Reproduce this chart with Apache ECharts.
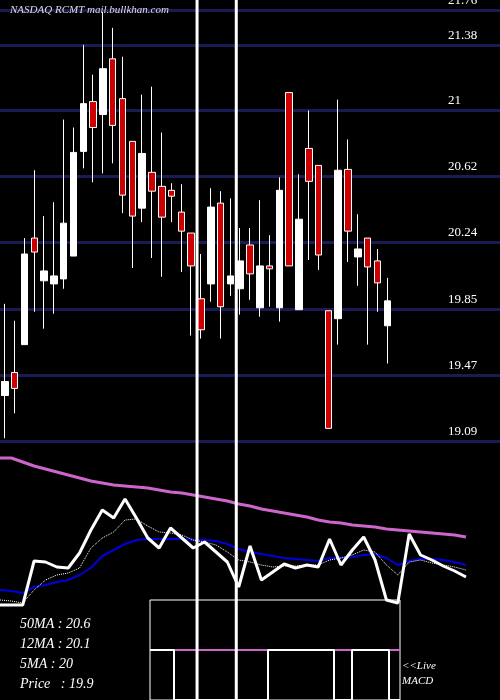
<!DOCTYPE html>
<html><head><meta charset="utf-8">
<script src="https://cdn.jsdelivr.net/npm/echarts@6/dist/echarts.min.js"></script>
<style>html,body{margin:0;padding:0;background:#000}#c{width:500px;height:700px}</style>
</head><body><div id="c"></div>
<script>
// candles: [open, close, low, high]
const candles = [
[19.353,19.434,19.106,19.883],[19.486,19.394,19.250,19.785],[19.647,20.171,19.647,20.263],[20.263,20.182,19.837,20.655],
[20.016,20.073,19.739,20.390],[19.998,20.044,19.826,20.470],[20.027,20.349,19.970,20.948],[20.159,20.758,20.159,20.902],
[20.764,21.040,20.666,21.380],[21.052,20.902,20.585,21.207],[20.977,21.242,20.637,21.570],[21.299,20.914,20.695,21.478],
[21.069,20.511,20.407,21.311],[20.822,20.390,20.090,20.822],[20.436,20.752,20.355,21.092],[20.643,20.534,20.148,21.138],
[20.562,20.384,20.039,20.873],[20.539,20.505,20.355,20.580],[20.413,20.303,20.067,20.574],[20.292,20.102,19.699,20.292],
[19.912,19.733,19.682,20.171],[19.998,20.442,19.895,20.551],[20.465,19.866,19.682,20.534],[19.998,20.044,19.929,20.493],
[19.970,20.131,19.820,20.321],[20.223,20.056,19.906,20.321],[19.860,20.102,19.808,20.482],[20.102,20.085,19.866,20.280],
[19.860,20.539,19.780,20.614],[21.104,20.102,20.102,21.104],[19.849,20.372,19.849,20.632],[20.781,20.591,20.136,21.000],
[20.683,20.165,20.079,20.683],[19.843,19.163,19.163,19.843],[19.797,20.655,19.647,21.063],[20.660,20.303,20.125,20.833],
[20.154,20.200,19.987,20.401],[20.263,20.096,19.647,20.263],[20.131,20.004,19.837,20.200],[19.756,19.900,19.538,20.033]
];
const slots = 51;
const tickValues = [21.576,21.38,21,20.62,20.24,19.85,19.47,19.09];
const tickLabels = ['21.76','21.38','21','20.62','20.24','19.85','19.47','19.09'];
const ma50 = [24.2,24.2,23.8,23.4,23.1,22.8,22.5,22.2,21.9,21.7,21.5,21.4,21.3,21.2,21.0,20.8,20.7,20.5,20.3,20.1,19.9,19.6,19.4,19.1,18.9,18.7,18.5,18.3,18.0,17.8,17.7,17.5,17.4,17.3,17.1,17.0,16.9,16.8,16.7,16.6,16.5,16.3];
const ma12 = [11.0,10.9,10.7,11.3,11.5,11.8,12.0,12.5,13.2,14.4,15.0,15.6,16.0,16.1,16.1,16.1,16.1,16.0,16.0,15.9,15.6,15.1,14.8,14.6,14.4,14.2,14.1,14.0,13.9,14.2,14.2,14.3,14.5,14.6,14.2,13.5,13.9,14.1,14.1,14.0,13.8,13.5];
const priceLine = [9.5,9.5,9.5,13.9,13.8,13.3,13.2,14.7,17.0,19.0,18.2,20.1,18.2,16.2,15.2,17.2,16.2,15.2,15.8,14.8,13.8,11.3,15.4,12.0,12.8,13.6,13.2,13.5,13.3,16.1,13.5,15.0,16.3,14.0,10.0,9.7,16.6,14.5,14.0,13.4,12.9,12.3];
const ma5 = [10.0,9.9,9.7,11.0,12.0,12.5,12.7,13.2,15.2,16.2,16.8,18.0,18.1,17.4,16.8,16.7,16.5,16.0,15.8,15.5,14.8,14.0,13.8,13.5,13.3,13.4,13.4,13.5,13.5,14.0,14.2,14.5,15.0,14.8,13.5,12.5,13.8,14.0,13.7,13.5,13.3,13.0];
const macdLine = [[0,0],[24,0],[24,-1],[118,-1],[118,0],[184,0],[184,-1],[202,-1],[202,0],[239,0],[239,-1],[250,-1]];
const vLines = [19.6, 23.6];
const legendLines = ['50MA : 20.6','12MA : 20.1','5MA : 20','Price   : 19.9'];

const cats = Array.from({length: slots}, (_, i) => i);
const lowerCats = ma50.map((_, i) => i);
const serif = 'Liberation Serif';
function labelFor(v) {
  let best = 0;
  tickValues.forEach((t, i) => { if (Math.abs(t - v) < Math.abs(tickValues[best] - v)) best = i; });
  return tickLabels[best];
}
const chart = echarts.init(document.getElementById('c'));
chart.setOption({
  backgroundColor: '#000',
  animation: false,
  grid: [
    {left: -2, right: -2, top: 0, height: 441},
    {left: 0, width: 466, top: 441, height: 259},
    {left: 150, width: 250, top: 600, height: 100, show: true, borderColor: '#fff', borderWidth: 1, backgroundColor: 'transparent'},
    {left: -2, right: -2, top: 0, bottom: 0}
  ],
  xAxis: [
    {gridIndex: 0, type: 'category', data: cats, show: false, boundaryGap: true},
    {gridIndex: 1, type: 'category', data: lowerCats, show: false, boundaryGap: false},
    {gridIndex: 2, type: 'value', min: 0, max: 250, show: false},
    {gridIndex: 3, type: 'value', min: -0.5, max: slots - 0.5, show: false}
  ],
  yAxis: [
    {gridIndex: 0, type: 'value', min: 19.09, max: 21.639, show: false, splitLine: {show: false}},
    {gridIndex: 1, type: 'value', min: 0, max: 25.9, show: false, splitLine: {show: false}},
    {gridIndex: 2, type: 'value', min: -1, max: 1, show: false, splitLine: {show: false}},
    {gridIndex: 3, type: 'value', min: 0, max: 1, show: false, splitLine: {show: false}}
  ],
  series: [
    {type: 'candlestick', xAxisIndex: 0, yAxisIndex: 0, data: candles, barWidth: 7,
     itemStyle: {color: '#ffffff', color0: '#cc0000', borderColor: '#ffffff', borderColor0: '#ffffff', borderWidth: 1},
     markLine: {silent: true, symbol: 'none', z: 1,
       lineStyle: {color: '#1a1a55', width: 3, type: 'solid'},
       label: {position: 'insideEndTop', color: '#ffffff', fontFamily: serif, fontSize: 13, distance: [52, 3],
         align: 'left', formatter: p => labelFor(p.value)},
       data: tickValues.map(v => ({yAxis: v}))}},
    {type: 'line', xAxisIndex: 1, yAxisIndex: 1, data: ma50, symbol: 'none', lineStyle: {color: '#cc66cc', width: 3}},
    {type: 'line', xAxisIndex: 1, yAxisIndex: 1, data: ma12, symbol: 'none', lineStyle: {color: '#0000dd', width: 2}},
    {type: 'line', xAxisIndex: 1, yAxisIndex: 1, data: ma5, symbol: 'none', lineStyle: {color: '#ffffff', width: 1, type: 'dotted'}},
    {type: 'line', xAxisIndex: 1, yAxisIndex: 1, data: priceLine, symbol: 'none', lineStyle: {color: '#ffffff', width: 3}},
    {type: 'line', xAxisIndex: 2, yAxisIndex: 2, data: [[0,0],[250,0]], symbol: 'none', lineStyle: {color: '#cc66cc', width: 2}, z: 3},
    {type: 'line', xAxisIndex: 2, yAxisIndex: 2, data: macdLine, symbol: 'none', lineStyle: {color: '#ffffff', width: 2}, z: 4},
    ...vLines.map(v => ({type: 'line', xAxisIndex: 3, yAxisIndex: 3, data: [[v,0],[v,1]], symbol: 'none', z: 6,
      lineStyle: {color: '#ffffff', width: 3}}))
  ],
  graphic: [
    {type: 'text', left: 10, top: 5, z: 10, style: {text: 'NASDAQ RCMT mail.bullkhan.com', fill: '#dddddd', font: 'italic 11px "Liberation Serif"'}},
    ...legendLines.map((t, i) => ({type: 'text', left: 20, top: 617 + i * 20, style: {text: t, fill: '#ffffff', font: 'italic 14px "Liberation Serif"'}})),
    {type: 'text', left: 402, top: 659, style: {text: '<<Live\nMACD', fill: '#ffffff', font: 'italic 11px "Liberation Serif"', lineHeight: 15}}
  ]
});
</script></body></html>
